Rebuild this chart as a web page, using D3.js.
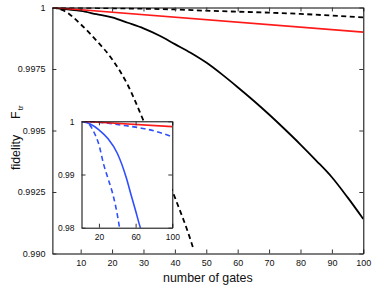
<!DOCTYPE html>
<html>
<head>
<meta charset="utf-8">
<script src="https://cdn.jsdelivr.net/npm/d3@7"></script>
<style>
  body { margin: 0; background: #fff; }
  svg { display: block; font-family: "Liberation Sans", Arial, sans-serif; }
</style>
</head>
<body>
<svg id="chart" width="374" height="287"></svg>
<script>
// ---- data ----
// main panel
const gates = [1, 5, 10, 15, 20, 25, 30, 35, 40, 45, 50, 55, 60, 65, 70, 75, 80, 85, 90, 95, 100];
const solidBlack = [1.0, 0.99993, 0.99986, 0.99973, 0.9996, 0.99938, 0.99915, 0.99886, 0.99851, 0.99816,
  0.99776, 0.99728, 0.99676, 0.99622, 0.99565, 0.99505, 0.99443, 0.99378, 0.9931, 0.99228, 0.9914];
const upperDashGates = [1, 10, 20, 30, 40, 50, 60, 70, 80, 90, 100];
const upperDash = [1.0, 0.99999, 0.99997, 0.99995, 0.99992, 0.99987, 0.99983, 0.99979, 0.99974, 0.99967, 0.9996];
const steepDashGates = [1, 5, 10, 15, 20, 25, 30, 35, 40, 45, 46];
const steepDash = [1.0, 0.99985, 0.99932, 0.99866, 0.9979, 0.99685, 0.9954, 0.99385, 0.99228, 0.99055, 0.99015];
const redGates = [1, 100];
const redLine = [1.0, 0.999];

// inset
const blueUpperGates = [1, 10, 20, 30, 40, 50, 60, 70, 80, 90, 100];
const blueUpper = [1.0, 0.99993, 0.9998, 0.99964, 0.9994, 0.99915, 0.9989, 0.9986, 0.9982, 0.9977, 0.99705];
const blueSolidGates = [1, 10, 20, 30, 40, 50, 55, 60, 65, 66];
const blueSolid = [1.0, 0.99955, 0.9984, 0.9967, 0.994, 0.9893, 0.9862, 0.9832, 0.9801, 0.9796];
const blueSteepGates = [1, 5, 10, 15, 20, 25, 30, 35, 40, 42, 43];
const blueSteep = [1.0, 0.99985, 0.9993, 0.9978, 0.9956, 0.992, 0.9892, 0.9864, 0.9825, 0.9805, 0.9796];

// ticks
const xTicks = [10, 20, 30, 40, 50, 60, 70, 80, 90, 100];
const yTicks = [1, 0.9975, 0.995, 0.9925, 0.99];
const yTickLabels = ['1', '0.9975', '0.995', '0.9925', '0.990'];
const insetXTicks = [20, 60, 100];
const insetYTicks = [1, 0.99, 0.98];
const insetYTickLabels = ['1', '0.99', '0.98'];

const pairs = (xs, ys) => xs.map((g, i) => [g, ys[i]]);

// ---- layout ----
const opts = {
  main: {left: 52.4, right: 363.3, top: 7.5, bottom: 253.5},
  inset: {left: 81.5, right: 172.3, top: 121.3, bottom: 227.7},
  tickFont: 9,
  labelFont: 12.4,
  black: '#000',
  red: '#ff1a1a',
  blue: '#2f4fff'
};

const svg = d3.select('#chart');

function panel(g, box, yDomain, id) {
  const x = d3.scaleLinear().domain([1, 100]).range([box.left, box.right]);
  const y = d3.scaleLinear().domain(yDomain).range([box.bottom, box.top]);
  g.append('clipPath').attr('id', id)
    .append('rect')
    .attr('x', box.left).attr('y', box.top)
    .attr('width', box.right - box.left).attr('height', box.bottom - box.top);
  return {x, y};
}

function drawLine(g, sc, data, color, width, dash, clip) {
  const line = d3.line().x(d => sc.x(d[0])).y(d => sc.y(d[1])).curve(d3.curveMonotoneX);
  g.append('path')
    .datum(data)
    .attr('d', line)
    .attr('fill', 'none')
    .attr('stroke', color)
    .attr('stroke-width', width)
    .attr('stroke-dasharray', dash)
    .attr('clip-path', `url(#${clip})`);
}

function frame(g, sc, box, xt, yt, yLabels, fs) {
  const tl = 4;
  g.append('g').attr('transform', `translate(0 ${box.bottom})`)
    .call(d3.axisBottom(sc.x).tickValues(xt).tickSize(-tl).tickSizeOuter(0).tickPadding(tl + 2.5))
    .call(a => a.selectAll('text').attr('font-size', fs).attr('fill', '#111').attr('font-family', null));
  g.append('g').attr('transform', `translate(0 ${box.top})`)
    .call(d3.axisTop(sc.x).tickValues(xt).tickSize(-tl).tickSizeOuter(0).tickFormat(''));
  g.append('g').attr('transform', `translate(${box.left} 0)`)
    .call(d3.axisLeft(sc.y).tickValues(yt).tickSize(-tl).tickSizeOuter(0).tickPadding(tl + 3)
      .tickFormat((d, i) => yLabels[i]))
    .call(a => a.selectAll('text').attr('font-size', fs).attr('fill', '#111').attr('font-family', null));
  g.append('g').attr('transform', `translate(${box.right} 0)`)
    .call(d3.axisRight(sc.y).tickValues(yt).tickSize(-tl).tickSizeOuter(0).tickFormat(''));
  g.selectAll('.domain').attr('stroke', opts.black);
  g.selectAll('.tick line').attr('stroke', '#333');
}

// main panel
const main = svg.append('g').attr('id', 'main');
const ms = panel(main, opts.main, [0.99, 1], 'clip-main');
drawLine(main, ms, pairs(upperDashGates, upperDash), opts.black, 1.8, '5,3.5', 'clip-main');
drawLine(main, ms, pairs(steepDashGates, steepDash), opts.black, 1.8, '5,3.5', 'clip-main');
drawLine(main, ms, pairs(gates, solidBlack), opts.black, 1.8, null, 'clip-main');
drawLine(main, ms, pairs(redGates, redLine), opts.red, 1.6, null, 'clip-main');
frame(main, ms, opts.main, xTicks, yTicks, yTickLabels, opts.tickFont);

// axis labels
svg.append('text')
  .attr('x', (opts.main.left + opts.main.right) / 2)
  .attr('y', 282)
  .attr('text-anchor', 'middle')
  .attr('font-size', opts.labelFont)
  .attr('fill', '#111')
  .text('number of gates');

const yl = svg.append('text')
  .attr('transform', 'translate(19.5 170) rotate(-90)')
  .attr('font-size', opts.labelFont)
  .attr('fill', '#111');
yl.append('tspan').text('fidelity');
yl.append('tspan').attr('dx', 16).text('F');
yl.append('tspan').attr('dx', 1).attr('dy', 3).attr('font-size', 8).text('tr');

// inset
const inset = svg.append('g').attr('id', 'inset');
inset.append('rect')
  .attr('x', opts.inset.left).attr('y', opts.inset.top)
  .attr('width', opts.inset.right - opts.inset.left)
  .attr('height', opts.inset.bottom - opts.inset.top)
  .attr('fill', '#fff');
const is = panel(inset, opts.inset, [0.98, 1], 'clip-inset');
drawLine(inset, is, pairs(blueUpperGates, blueUpper), opts.blue, 1.6, '5,3.5', 'clip-inset');
drawLine(inset, is, pairs(blueSteepGates, blueSteep), opts.blue, 1.6, '5,3.5', 'clip-inset');
drawLine(inset, is, pairs(blueSolidGates, blueSolid), opts.blue, 1.6, null, 'clip-inset');
drawLine(inset, is, pairs(redGates, redLine), opts.red, 1.6, null, 'clip-inset');
frame(inset, is, opts.inset, insetXTicks, insetYTicks, insetYTickLabels, 8.5);
</script>
</body>
</html>
